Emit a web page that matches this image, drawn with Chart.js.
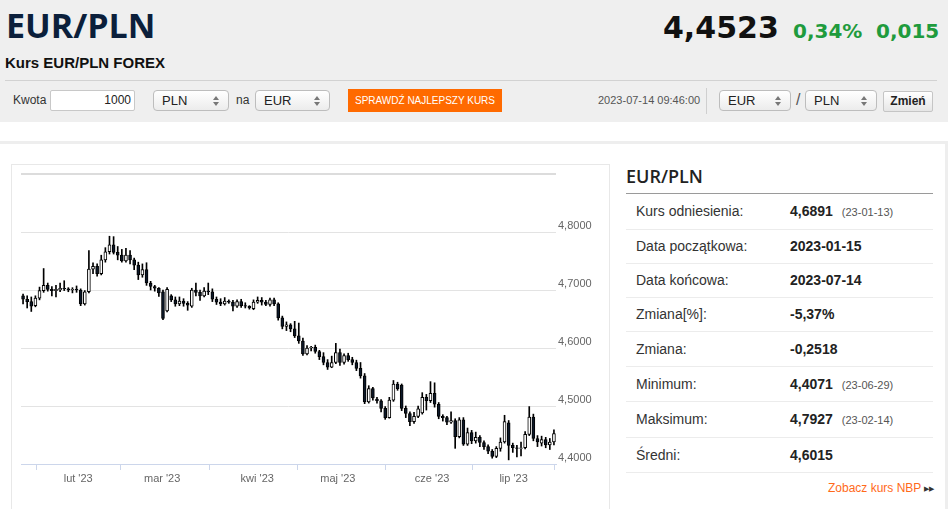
<!DOCTYPE html>
<html>
<head>
<meta charset="utf-8">
<script src="https://cdn.jsdelivr.net/npm/chart.js@4"></script>
<style>
  html,body{margin:0;padding:0;}
  body{width:948px;height:509px;overflow:hidden;background:#fff;position:relative;font-family:"Liberation Sans",Arial,sans-serif;color:#333;}
  .abs{position:absolute;white-space:nowrap;}
  .hdr{left:0;top:0;width:948px;height:122px;background:#efefef;}
  .sel{position:absolute;height:19px;border:1px solid #bdbdbd;border-radius:4px;background:linear-gradient(#ffffff,#ececec);font-size:13px;line-height:19px;color:#222;box-sizing:content-box;}
  .sel span.t{position:absolute;left:8px;top:0;}
  .arr{position:absolute;right:8px;top:5px;width:7px;height:10px;}
  .arr:before{content:"";position:absolute;left:0;top:0;border-left:3.5px solid transparent;border-right:3.5px solid transparent;border-bottom:4px solid #777;}
  .arr:after{content:"";position:absolute;left:0;top:6px;border-left:3.5px solid transparent;border-right:3.5px solid transparent;border-top:4px solid #777;}
  .row{position:absolute;left:626px;width:307px;border-bottom:1px solid #ececec;font-size:14px;color:#333;}
  .row .l{position:absolute;left:10px;}
  .row .v{position:absolute;left:164px;font-weight:bold;color:#222;}
  .row .d{font-weight:normal;font-size:11px;color:#555;margin-left:9px;}
</style>
</head>
<body>
<div class="abs hdr"></div>
<div class="abs" style="left:6px;top:8px;font-family:'Open Sans',sans-serif;font-weight:700;font-size:34px;line-height:34px;color:#0b1f3b;">EUR/PLN</div>
<div class="abs" style="left:5px;top:55px;font-weight:bold;font-size:15px;line-height:15px;color:#111;">Kurs EUR/PLN FOREX</div>
<div class="abs" style="left:5px;top:80px;width:932px;height:1px;background:#d2d2d2;"></div>

<div class="abs" style="left:663px;top:13px;font-family:'DejaVu Sans',sans-serif;font-weight:bold;font-size:30px;line-height:30px;color:#111;">4,4523</div>
<div class="abs" style="left:793px;top:21px;font-family:'DejaVu Sans',sans-serif;font-weight:bold;font-size:20px;line-height:20px;color:#1f9b3d;">0,34%</div>
<div class="abs" style="left:876px;top:21px;font-family:'DejaVu Sans',sans-serif;font-weight:bold;font-size:20px;line-height:20px;color:#1f9b3d;">0,015</div>

<div class="abs" style="left:13px;top:90px;height:21px;line-height:21px;font-size:12px;color:#333;">Kwota</div>
<div class="abs" style="left:50px;top:90px;width:83px;height:19px;border:1px solid #c8c8c8;background:#fff;border-radius:2px;font-size:12px;line-height:19px;text-align:right;color:#222;"><span style="padding-right:3px;">1000</span></div>
<div class="sel" style="left:153px;top:90px;width:74px;"><span class="t">PLN</span><span class="arr"></span></div>
<div class="abs" style="left:236px;top:90px;height:21px;line-height:21px;font-size:12px;color:#333;">na</div>
<div class="sel" style="left:255px;top:90px;width:73px;"><span class="t">EUR</span><span class="arr"></span></div>
<div class="abs" style="left:348px;top:89px;width:154px;height:23px;background:#ff6a00;color:#fff;font-size:10px;line-height:23px;text-align:center;letter-spacing:0px;">SPRAWDŹ NAJLEPSZY KURS</div>

<div class="abs" style="left:598px;top:90px;height:21px;line-height:21px;font-size:11px;color:#555;">2023-07-14 09:46:00</div>
<div class="abs" style="left:706px;top:88px;width:1px;height:26px;background:#cfcfcf;"></div>
<div class="sel" style="left:719px;top:90px;width:70px;"><span class="t">EUR</span><span class="arr"></span></div>
<div class="abs" style="left:796px;top:89px;height:22px;line-height:22px;font-size:16px;color:#555;">/</div>
<div class="sel" style="left:805px;top:90px;width:70px;"><span class="t">PLN</span><span class="arr"></span></div>
<div class="abs" style="left:883px;top:91px;width:48px;height:19px;border:1px solid #c5c5c5;border-radius:2px;background:linear-gradient(#ffffff,#e6e6e6);font-size:12px;font-weight:bold;line-height:19px;text-align:center;color:#222;">Zmień</div>

<div class="abs" style="left:0;top:141px;width:945px;height:368px;border-top:3px solid #eeeeee;border-right:3px solid #eeeeee;"></div>

<div class="abs" style="left:11px;top:164px;width:597px;height:360px;border:1px solid #e8e8e8;"></div>
<div class="abs" style="left:12px;top:165px;width:597px;height:344px;"><canvas id="c" width="597" height="344" style="width:597px;height:344px;"></canvas></div>

<div class="abs" style="left:626px;top:167px;font-family:'Open Sans',sans-serif;font-weight:600;font-size:18px;line-height:18px;color:#222;">EUR/PLN</div>
<div class="abs" style="left:626px;top:193px;width:307px;height:1px;background:#9a9a9a;"></div>

<div class="row" style="top:194px;height:35px;"><span class="l" style="top:9px;">Kurs odniesienia:</span><span class="v" style="top:9px;">4,6891<span class="d">(23-01-13)</span></span></div>
<div class="row" style="top:230px;height:33px;"><span class="l" style="top:8px;">Data początkowa:</span><span class="v" style="top:8px;">2023-01-15</span></div>
<div class="row" style="top:264px;height:33px;"><span class="l" style="top:8px;">Data końcowa:</span><span class="v" style="top:8px;">2023-07-14</span></div>
<div class="row" style="top:298px;height:33px;"><span class="l" style="top:8px;">Zmiana[%]:</span><span class="v" style="top:8px;">-5,37%</span></div>
<div class="row" style="top:332px;height:34px;"><span class="l" style="top:9px;">Zmiana:</span><span class="v" style="top:9px;">-0,2518</span></div>
<div class="row" style="top:367px;height:34px;"><span class="l" style="top:9px;">Minimum:</span><span class="v" style="top:9px;">4,4071<span class="d">(23-06-29)</span></span></div>
<div class="row" style="top:402px;height:35px;"><span class="l" style="top:9px;">Maksimum:</span><span class="v" style="top:9px;">4,7927<span class="d">(23-02-14)</span></span></div>
<div class="row" style="top:438px;height:34px;"><span class="l" style="top:9px;">Średni:</span><span class="v" style="top:9px;">4,6015</span></div>

<div class="abs" style="left:828px;top:481px;font-size:12px;line-height:14px;color:#ff6a1a;">Zobacz kurs NBP <span style="font-size:7px;color:#333;vertical-align:1px;">▶▶</span></div>

<script>
const opens = [4.690,4.684,4.680,4.673,4.686,4.699,4.708,4.701,4.699,4.700,
4.703,4.702,4.700,4.701,4.700,4.676,4.697,4.736,4.741,4.728,
4.752,4.766,4.778,4.765,4.760,4.750,4.760,4.752,4.743,4.726,
4.735,4.712,4.706,4.703,4.697,4.664,4.690,4.683,4.676,4.681,
4.677,4.672,4.700,4.696,4.690,4.698,4.697,4.684,4.679,4.676,
4.681,4.679,4.672,4.680,4.673,4.672,4.668,4.679,4.682,4.679,
4.675,4.683,4.676,4.652,4.637,4.640,4.633,4.621,4.612,4.590,
4.600,4.601,4.594,4.585,4.575,4.567,4.575,4.592,4.575,4.587,
4.580,4.575,4.565,4.552,4.507,4.530,4.512,4.509,4.496,4.480,
4.510,4.538,4.536,4.496,4.487,4.473,4.482,4.488,4.515,4.509,
4.522,4.503,4.482,4.480,4.472,4.475,4.447,4.476,4.434,4.454,
4.440,4.446,4.437,4.430,4.422,4.413,4.427,4.438,4.471,4.432,
4.428,4.427,4.428,4.451,4.481,4.444,4.436,4.442,4.433,4.438];

const highs = [4.693,4.690,4.688,4.690,4.705,4.737,4.712,4.706,4.708,4.712,
4.716,4.704,4.704,4.707,4.702,4.699,4.768,4.747,4.745,4.760,
4.773,4.7927,4.792,4.775,4.770,4.772,4.768,4.755,4.748,4.745,
4.747,4.715,4.708,4.704,4.700,4.704,4.692,4.688,4.688,4.685,
4.680,4.703,4.712,4.700,4.704,4.712,4.702,4.688,4.685,4.687,
4.683,4.682,4.683,4.684,4.678,4.673,4.683,4.688,4.687,4.682,
4.686,4.686,4.678,4.655,4.645,4.642,4.646,4.643,4.617,4.604,
4.603,4.605,4.596,4.592,4.580,4.586,4.608,4.598,4.590,4.591,
4.584,4.579,4.575,4.556,4.535,4.532,4.515,4.511,4.499,4.515,
4.544,4.541,4.538,4.500,4.490,4.489,4.500,4.523,4.520,4.542,
4.540,4.506,4.485,4.482,4.490,4.478,4.480,4.480,4.462,4.458,
4.455,4.449,4.440,4.433,4.425,4.430,4.445,4.484,4.475,4.436,
4.432,4.438,4.456,4.499,4.486,4.449,4.448,4.446,4.444,4.459];

const lows = [4.676,4.669,4.663,4.671,4.683,4.696,4.698,4.690,4.688,4.697,
4.699,4.697,4.695,4.696,4.673,4.674,4.695,4.728,4.724,4.726,
4.748,4.762,4.762,4.752,4.748,4.748,4.745,4.735,4.718,4.722,
4.708,4.700,4.698,4.689,4.649,4.662,4.680,4.672,4.673,4.672,
4.665,4.670,4.690,4.682,4.688,4.692,4.680,4.675,4.673,4.674,
4.677,4.664,4.670,4.670,4.669,4.667,4.666,4.677,4.674,4.673,
4.672,4.673,4.648,4.633,4.630,4.628,4.618,4.608,4.587,4.588,
4.595,4.591,4.580,4.571,4.563,4.566,4.573,4.570,4.572,4.577,
4.571,4.561,4.548,4.504,4.505,4.510,4.505,4.490,4.477,4.479,
4.508,4.527,4.492,4.480,4.466,4.470,4.480,4.486,4.493,4.506,
4.498,4.478,4.474,4.468,4.470,4.427,4.445,4.432,4.432,4.435,
4.436,4.430,4.425,4.418,4.410,4.411,4.422,4.436,4.4071,4.420,
4.412,4.414,4.426,4.449,4.440,4.430,4.431,4.428,4.425,4.433];

const closes = [4.684,4.680,4.672,4.686,4.699,4.708,4.701,4.699,4.701,4.703,
4.702,4.700,4.701,4.700,4.676,4.697,4.736,4.741,4.728,4.752,
4.766,4.778,4.765,4.760,4.750,4.760,4.752,4.743,4.726,4.735,
4.712,4.706,4.703,4.695,4.651,4.701,4.683,4.676,4.681,4.677,
4.674,4.700,4.696,4.690,4.698,4.697,4.684,4.679,4.676,4.681,
4.679,4.672,4.680,4.673,4.672,4.669,4.679,4.682,4.679,4.675,
4.683,4.676,4.652,4.637,4.640,4.633,4.621,4.612,4.590,4.600,
4.601,4.594,4.585,4.575,4.567,4.575,4.592,4.575,4.587,4.580,
4.575,4.565,4.552,4.507,4.530,4.514,4.509,4.496,4.480,4.510,
4.538,4.530,4.496,4.487,4.473,4.482,4.495,4.515,4.509,4.522,
4.503,4.482,4.480,4.472,4.475,4.447,4.476,4.434,4.454,4.440,
4.446,4.437,4.430,4.422,4.413,4.427,4.438,4.473,4.432,4.428,
4.427,4.428,4.451,4.481,4.444,4.438,4.442,4.433,4.438,4.4523];

const monthLabels = ["lut '23", "mar '23", "kwi '23", "maj '23", "cze '23", "lip '23"];
const monthTickPos = [13.4, 33.8, 56.9, 76.5, 99.4, 119.2];
const yTicks = [4.4, 4.5, 4.6, 4.7, 4.8, 4.9];

Chart.defaults.font.family = '"Liberation Sans", Arial, sans-serif';

const idx = closes.map((_, i) => i);
const bodies = idx.map(i => ({x: i, y: [opens[i], closes[i]]}));
const wicks = idx.map(i => ({x: i, y: [lows[i], highs[i]]}));
const bodyFill = idx.map(i => closes[i] >= opens[i] ? '#ffffff' : '#0c1829');

new Chart(document.getElementById('c'), {
  type: 'bar',
  data: {
    datasets: [
      {data: bodies, backgroundColor: bodyFill, borderColor: '#000', borderWidth: 1, borderSkipped: false,
       barThickness: 3, grouped: false, order: 0},
      {data: wicks, backgroundColor: '#000', borderWidth: 0, barThickness: 1, grouped: false, order: 1}
    ]
  },
  options: {
    responsive: false,
    animation: false,
    layout: {padding: {left: 9, top: 9, right: 0, bottom: 0}},
    plugins: {legend: {display: false}, tooltip: {enabled: false}},
    scales: {
      x: {
        type: 'linear', min: -0.5, max: closes.length - 0.5, offset: false,
        afterBuildTicks: s => { s.ticks = monthTickPos.map(v => ({value: v})); },
        afterFit: s => { s.height = 45; },
        ticks: {callback: (v, i) => monthLabels[i], color: '#666', font: {size: 11}, padding: 2,
                maxRotation: 0, autoSkip: false},
        grid: {drawOnChartArea: false, drawTicks: true, tickLength: 6, color: '#ccd6eb'},
        border: {color: '#ccd6eb'}
      },
      y: {
        position: 'right', min: 4.4, max: 4.9,
        afterBuildTicks: s => { s.ticks = yTicks.map(v => ({value: v})); },
        afterFit: s => { s.width = 53; },
        ticks: {callback: v => v > 4.85 ? '' : v.toFixed(4).replace('.', ','),
                labelOffset: -6, padding: 2, color: '#666', font: {size: 11}},
        grid: {drawTicks: false,
               color: c => (c.tick && c.tick.value > 4.85) ? '#dcdcdc' : '#e3e3e3',
               lineWidth: c => (c.tick && c.tick.value > 4.85) ? 2 : 1},
        border: {display: false}
      }
    }
  }
});
</script>
</body>
</html>
